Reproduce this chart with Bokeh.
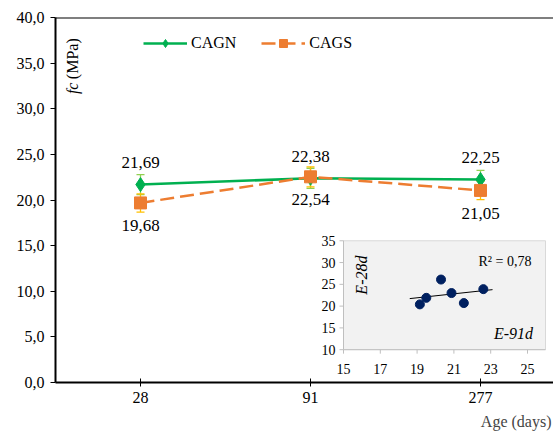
import math
import numpy as np
from bokeh.plotting import figure
from bokeh.models import (ColumnDataSource, Range1d, LinearAxis, FixedTicker, Whisker,
                          TeeHead, Label, Span, Title, Legend)
from bokeh.core.properties import value
from bokeh.embed import file_html
from bokeh.resources import INLINE

# ---------------- data ----------------
ages = ["28", "91", "277"]
cagn = [21.69, 22.38, 22.25]
cags = [19.68, 22.54, 21.05]
cagn_err = [1.1, 1.1, 1.0]
cags_err = [1.0, 1.1, 1.0]
cagn_labels = ["21,69", "22,38", "22,25"]
cags_labels = ["19,68", "22,54", "21,05"]
y_ticks = [0, 5, 10, 15, 20, 25, 30, 35, 40]

# inset (E-91d vs E-28d)
e91 = [19.15, 19.5, 20.3, 20.87, 21.54, 22.6]
e28 = [20.4, 21.9, 26.1, 23.0, 20.7, 23.9]
trend_x = [18.6, 23.1]
inset_xticks = [15, 17, 19, 21, 23, 25]
inset_yticks = [10, 15, 20, 25, 30, 35]
r2_text = "R² = 0,78"

# ---------------- layout constants (pixels) ----------------
W, H = 553, 434
FL, FR, FT, FB = 55, 553, 17, 384
CAT_W = 170.0
Y_MAX = 40.0
FNAME = "Times"
FONT = value(FNAME)

def mx(px):
    return (px - FL) / CAT_W

def my(py):
    return (FB - py) / (FB - FT) * Y_MAX

# inset pixel mapping
IX0_PX, IX0_V, IXS = 343.0, 15.0, 18.4   # px of x=15, px per unit
IY0_PX, IY0_V, IYS = 351.0, 10.0, 4.38   # px of y=10, px per unit

def ix(px):
    return IX0_V + (px - IX0_PX) / IXS

def iy(py):
    return IY0_V + (IY0_PX - py) / IYS

p = figure(width=W, height=H, output_backend="svg", toolbar_location=None,
           x_range=Range1d(0, mx(FR)), y_range=Range1d(0, Y_MAX),
           min_border_left=FL, min_border_right=0, min_border_top=FT,
           min_border_bottom=H - FB, x_axis_location=None, y_axis_location=None)
p.outline_line_color = None
p.xgrid.visible = False
p.ygrid.visible = False
p.background_fill_color = "white"
p.border_fill_color = "white"

xpos = [i + 0.5 for i in range(len(ages))]

# axes
yax = LinearAxis(ticker=FixedTicker(ticks=y_ticks),
                 major_label_overrides={t: f"{t:.1f}".replace(".", ",") for t in y_ticks})
yax.axis_line_width = 2
yax.axis_line_color = "black"
yax.major_tick_out = 5
yax.major_tick_in = 0
yax.minor_tick_line_color = None
yax.major_tick_line_color = "black"
yax.major_label_standoff = 6
yax.major_label_text_font = FNAME
yax.major_label_text_font_size = "16px"
yax.major_label_text_color = "black"
p.add_layout(yax, "left")

xax = LinearAxis(ticker=FixedTicker(ticks=xpos),
                 major_label_overrides={x: a for x, a in zip(xpos, ages)})
xax.axis_line_width = 2
xax.axis_line_color = "black"
xax.major_tick_out = 4
xax.major_tick_in = 4
xax.minor_tick_line_color = None
xax.major_tick_line_color = "black"
xax.major_label_standoff = 5
xax.major_label_text_font = FNAME
xax.major_label_text_font_size = "16px"
xax.major_label_text_color = "black"
p.add_layout(xax, "below")

p.add_layout(Title(text="Age (days)", align="right", text_font=FNAME,
                   text_font_size="16px", text_font_style="normal", offset=2), "below")

# top border
p.add_layout(Span(location=Y_MAX, dimension="width", line_color="black", line_width=2))

# y axis label inside plot
p.add_layout(Label(x=mx(72), y=my(94), text="fc", angle=math.pi / 2, text_align="left",
                   text_baseline="middle", text_font=FNAME, text_font_size="16px",
                   text_font_style="italic", text_color="black"))
p.add_layout(Label(x=mx(72), y=my(79), text="(MPa)", angle=math.pi / 2, text_align="left",
                   text_baseline="middle", text_font=FNAME, text_font_size="16px",
                   text_color="black"))

# ---------------- inset ----------------
p.extra_x_ranges = {"ix": Range1d(ix(FL), ix(FR))}
p.extra_y_ranges = {"iy": Range1d(iy(FB), iy(FT))}
IX_END = ix(545)
p.quad(left=[inset_xticks[0]], right=[IX_END], bottom=[inset_yticks[0]], top=[inset_yticks[-1]],
       fill_color="#F2F2F2", line_color="#D9D9D9", line_width=1,
       x_range_name="ix", y_range_name="iy")
p.segment(x0=[inset_xticks[0], inset_xticks[0]], y0=[inset_yticks[0], inset_yticks[0]],
          x1=[IX_END, inset_xticks[0]], y1=[inset_yticks[0], inset_yticks[-1]],
          line_color="#BFBFBF", line_width=1, x_range_name="ix", y_range_name="iy")
tick_len_x = 4 / IYS
tick_len_y = 4 / IXS
p.segment(x0=inset_xticks, y0=[inset_yticks[0]] * len(inset_xticks),
          x1=inset_xticks, y1=[inset_yticks[0] - tick_len_x] * len(inset_xticks),
          line_color="#BFBFBF", line_width=1, x_range_name="ix", y_range_name="iy")
p.segment(x0=[inset_xticks[0]] * len(inset_yticks), y0=inset_yticks,
          x1=[inset_xticks[0] - tick_len_y] * len(inset_yticks), y1=inset_yticks,
          line_color="#BFBFBF", line_width=1, x_range_name="ix", y_range_name="iy")
p.text(x=inset_xticks, y=[iy(370)] * len(inset_xticks), text=[str(t) for t in inset_xticks],
       text_align="center", text_baseline="middle", text_font=FONT, text_font_size="14px",
       text_color="black", x_range_name="ix", y_range_name="iy")
p.text(x=[ix(335)] * len(inset_yticks), y=inset_yticks, text=[str(t) for t in inset_yticks],
       text_align="right", text_baseline="middle", text_font=FONT, text_font_size="14px",
       text_color="black", x_range_name="ix", y_range_name="iy")
slope, icpt = np.polyfit(e91, e28, 1)
p.line(x=trend_x, y=[slope * t + icpt for t in trend_x], line_color="black", line_width=1,
       x_range_name="ix", y_range_name="iy")
p.scatter(x=e91, y=e28, size=9, fill_color="#002060", line_color="#002060",
          x_range_name="ix", y_range_name="iy")
p.text(x=[ix(478)], y=[iy(262)], text=[r2_text], text_align="left", text_baseline="middle",
       text_font=FONT, text_font_size="14px", text_color="black",
       x_range_name="ix", y_range_name="iy")
p.text(x=[ix(361)], y=[iy(276)], text=["E-28d"], angle=math.pi / 2, text_align="center",
       text_baseline="middle", text_font=FONT, text_font_size="16px", text_font_style="italic",
       text_color="black", x_range_name="ix", y_range_name="iy")
p.text(x=[ix(513)], y=[iy(335)], text=["E-91d"], text_align="center",
       text_baseline="middle", text_font=FONT, text_font_size="16px", text_font_style="italic",
       text_color="black", x_range_name="ix", y_range_name="iy")

# ---------------- main series ----------------
src_n = ColumnDataSource(dict(x=xpos, y=cagn, up=[v + e for v, e in zip(cagn, cagn_err)],
                              lo=[v - e for v, e in zip(cagn, cagn_err)], lab=cagn_labels))
src_s = ColumnDataSource(dict(x=xpos, y=cags, up=[v + e for v, e in zip(cags, cags_err)],
                              lo=[v - e for v, e in zip(cags, cags_err)], lab=cags_labels))

GREEN = "#00B050"
ORANGE = "#ED7D31"
for src, col in ((src_n, "#92D050"), (src_s, "#FFC000")):
    w = Whisker(base="x", upper="up", lower="lo", source=src, line_color=col, line_width=1.3,
                upper_head=TeeHead(size=8, line_color=col, line_width=1.3),
                lower_head=TeeHead(size=8, line_color=col, line_width=1.3), level="underlay")
    p.add_layout(w)

ln = p.line("x", "y", source=src_n, line_color=GREEN, line_width=2.5)
mn = p.scatter("x", "y", source=src_n, marker="diamond", size=14, fill_color=GREEN,
               line_color=GREEN)
ls = p.line("x", "y", source=src_s, line_color=ORANGE, line_width=2.5, line_dash="14 6")
ms = p.scatter("x", "y", source=src_s, marker="square", size=12, fill_color=ORANGE,
               line_color=ORANGE)

p.text("x", "y", text="lab", source=src_n, y_offset=-22, text_align="center",
       text_baseline="middle", text_font=FONT, text_font_size="17px", text_color="black")
p.text("x", "y", text="lab", source=src_s, y_offset=23, text_align="center",
       text_baseline="middle", text_font=FONT, text_font_size="17px", text_color="black")

legend = Legend(items=[("CAGN", [ln, mn]), ("CAGS", [ls, ms])], orientation="horizontal",
                location=(88, FB - 55), padding=0, margin=0, spacing=25, label_standoff=4,
                glyph_width=44, glyph_height=20, label_height=20,
                label_text_font=FNAME, label_text_font_size="16px",
                label_text_color="black", background_fill_alpha=0, border_line_color=None)
p.add_layout(legend, "center")

open("out.html", "w").write(file_html(p, INLINE))
